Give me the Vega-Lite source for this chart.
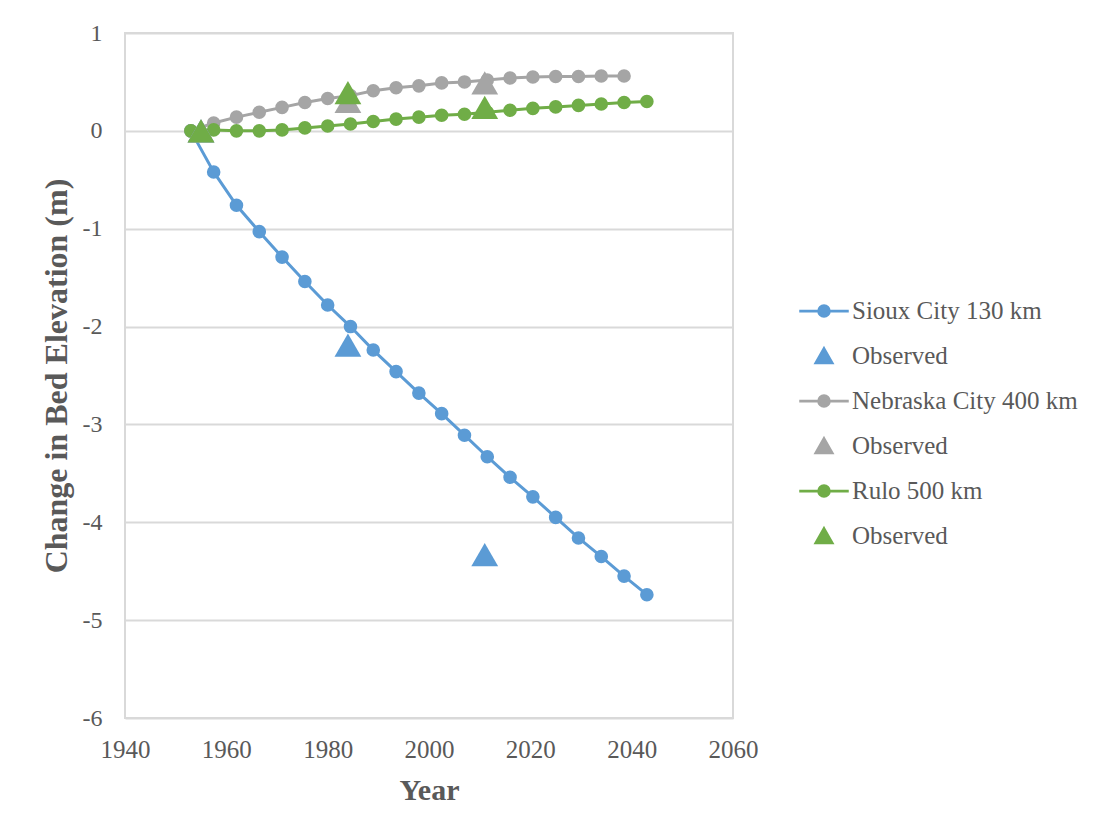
{
  "$schema": "https://vega.github.io/schema/vega-lite/v6.json",
  "width": 608,
  "height": 685,
  "autosize": "none",
  "padding": {"left": 125, "top": 33, "right": 363, "bottom": 122},
  "background": "white",
  "config": {
    "font": "Liberation Serif",
    "view": {"stroke": "#d9d9d9", "strokeWidth": 2}
  },
  "datasets": {
    "model": [
      {"series": "Sioux City 130 km", "year": 1953, "value": 0},
      {"series": "Sioux City 130 km", "year": 1957.5, "value": -0.42},
      {"series": "Sioux City 130 km", "year": 1962, "value": -0.76},
      {"series": "Sioux City 130 km", "year": 1966.5, "value": -1.03},
      {"series": "Sioux City 130 km", "year": 1971, "value": -1.29},
      {"series": "Sioux City 130 km", "year": 1975.5, "value": -1.54},
      {"series": "Sioux City 130 km", "year": 1980, "value": -1.78},
      {"series": "Sioux City 130 km", "year": 1984.5, "value": -2.0},
      {"series": "Sioux City 130 km", "year": 1989, "value": -2.24},
      {"series": "Sioux City 130 km", "year": 1993.5, "value": -2.46},
      {"series": "Sioux City 130 km", "year": 1998, "value": -2.68},
      {"series": "Sioux City 130 km", "year": 2002.5, "value": -2.89},
      {"series": "Sioux City 130 km", "year": 2007, "value": -3.11},
      {"series": "Sioux City 130 km", "year": 2011.5, "value": -3.33},
      {"series": "Sioux City 130 km", "year": 2016, "value": -3.54},
      {"series": "Sioux City 130 km", "year": 2020.5, "value": -3.74},
      {"series": "Sioux City 130 km", "year": 2025, "value": -3.95},
      {"series": "Sioux City 130 km", "year": 2029.5, "value": -4.16},
      {"series": "Sioux City 130 km", "year": 2034, "value": -4.35},
      {"series": "Sioux City 130 km", "year": 2038.5, "value": -4.55},
      {"series": "Sioux City 130 km", "year": 2043, "value": -4.74},
      {"series": "Nebraska City 400 km", "year": 1953, "value": 0},
      {"series": "Nebraska City 400 km", "year": 1957.5, "value": 0.08},
      {"series": "Nebraska City 400 km", "year": 1962, "value": 0.14},
      {"series": "Nebraska City 400 km", "year": 1966.5, "value": 0.19},
      {"series": "Nebraska City 400 km", "year": 1971, "value": 0.24},
      {"series": "Nebraska City 400 km", "year": 1975.5, "value": 0.29},
      {"series": "Nebraska City 400 km", "year": 1980, "value": 0.33},
      {"series": "Nebraska City 400 km", "year": 1984.5, "value": 0.36},
      {"series": "Nebraska City 400 km", "year": 1989, "value": 0.41},
      {"series": "Nebraska City 400 km", "year": 1993.5, "value": 0.44},
      {"series": "Nebraska City 400 km", "year": 1998, "value": 0.46},
      {"series": "Nebraska City 400 km", "year": 2002.5, "value": 0.49},
      {"series": "Nebraska City 400 km", "year": 2007, "value": 0.5},
      {"series": "Nebraska City 400 km", "year": 2011.5, "value": 0.52},
      {"series": "Nebraska City 400 km", "year": 2016, "value": 0.54},
      {"series": "Nebraska City 400 km", "year": 2020.5, "value": 0.55},
      {"series": "Nebraska City 400 km", "year": 2025, "value": 0.555},
      {"series": "Nebraska City 400 km", "year": 2029.5, "value": 0.555},
      {"series": "Nebraska City 400 km", "year": 2034, "value": 0.56},
      {"series": "Nebraska City 400 km", "year": 2038.5, "value": 0.56},
      {"series": "Rulo 500 km", "year": 1953, "value": 0},
      {"series": "Rulo 500 km", "year": 1957.5, "value": 0.01},
      {"series": "Rulo 500 km", "year": 1962, "value": 0.0},
      {"series": "Rulo 500 km", "year": 1966.5, "value": 0.0},
      {"series": "Rulo 500 km", "year": 1971, "value": 0.01},
      {"series": "Rulo 500 km", "year": 1975.5, "value": 0.03},
      {"series": "Rulo 500 km", "year": 1980, "value": 0.05},
      {"series": "Rulo 500 km", "year": 1984.5, "value": 0.07},
      {"series": "Rulo 500 km", "year": 1989, "value": 0.095},
      {"series": "Rulo 500 km", "year": 1993.5, "value": 0.12},
      {"series": "Rulo 500 km", "year": 1998, "value": 0.14},
      {"series": "Rulo 500 km", "year": 2002.5, "value": 0.16},
      {"series": "Rulo 500 km", "year": 2007, "value": 0.17},
      {"series": "Rulo 500 km", "year": 2011.5, "value": 0.19},
      {"series": "Rulo 500 km", "year": 2016, "value": 0.21},
      {"series": "Rulo 500 km", "year": 2020.5, "value": 0.23},
      {"series": "Rulo 500 km", "year": 2025, "value": 0.245},
      {"series": "Rulo 500 km", "year": 2029.5, "value": 0.26},
      {"series": "Rulo 500 km", "year": 2034, "value": 0.275},
      {"series": "Rulo 500 km", "year": 2038.5, "value": 0.29},
      {"series": "Rulo 500 km", "year": 2043, "value": 0.3}
    ],
    "observed": [
      {"series": "Observed (Sioux City)", "year": 1955, "value": 0},
      {"series": "Observed (Sioux City)", "year": 1984, "value": -2.19},
      {"series": "Observed (Sioux City)", "year": 2011, "value": -4.33},
      {"series": "Observed (Nebraska City)", "year": 1955, "value": 0},
      {"series": "Observed (Nebraska City)", "year": 1984, "value": 0.3},
      {"series": "Observed (Nebraska City)", "year": 2011, "value": 0.49},
      {"series": "Observed (Rulo)", "year": 1955, "value": 0},
      {"series": "Observed (Rulo)", "year": 1984, "value": 0.39},
      {"series": "Observed (Rulo)", "year": 2011, "value": 0.24}
    ],
    "keys": [
      {"series": "Sioux City 130 km", "year": 1000, "value": 0},
      {"series": "Observed (Sioux City)", "year": 1000, "value": 0},
      {"series": "Nebraska City 400 km", "year": 1000, "value": 0},
      {"series": "Observed (Nebraska City)", "year": 1000, "value": 0},
      {"series": "Rulo 500 km", "year": 1000, "value": 0},
      {"series": "Observed (Rulo)", "year": 1000, "value": 0}
    ]
  },
  "layer": [
    {
      "data": {"name": "model"},
      "mark": {"type": "line", "strokeWidth": 3},
      "encoding": {
        "x": {
          "field": "year", "type": "quantitative",
          "scale": {"domain": [1940, 2060], "nice": false, "zero": false},
          "axis": {
            "title": "Year", "values": [1940, 1960, 1980, 2000, 2020, 2040, 2060],
            "labelExpr": "toString(datum.value)", "grid": false, "domain": false, "ticks": false,
            "labelFlush": false, "labelOverlap": false,
            "labelFontSize": 25, "labelColor": "#595959", "labelPadding": 19,
            "titleFontSize": 30, "titleFontWeight": "bold", "titleColor": "#595959",
            "titlePadding": 13
          }
        },
        "y": {
          "field": "value", "type": "quantitative",
          "scale": {"domain": [-6, 1], "nice": false, "zero": false},
          "axis": {
            "title": "Change in Bed Elevation (m)", "values": [-6, -5, -4, -3, -2, -1, 0, 1],
            "labelExpr": "toString(datum.value)", "grid": true, "gridColor": "#d9d9d9", "gridWidth": 2,
            "domain": false, "ticks": false, "labelFlush": false, "labelOverlap": false,
            "labelFontSize": 24, "labelColor": "#595959", "labelPadding": 23,
            "titleFontSize": 32, "titleFontWeight": "bold", "titleColor": "#595959",
            "titlePadding": 9
          }
        },
        "color": {
          "field": "series", "type": "nominal",
          "scale": {
            "domain": ["Sioux City 130 km", "Nebraska City 400 km", "Rulo 500 km", "Observed (Sioux City)", "Observed (Nebraska City)", "Observed (Rulo)"],
            "range": ["#5b9bd5", "#a5a5a5", "#70ad47", "#5b9bd5", "#a5a5a5", "#70ad47"]
          },
          "legend": null
        }
      }
    },
    {
      "data": {"name": "model"},
      "mark": {"type": "point", "shape": "circle", "filled": true, "size": 185, "opacity": 1},
      "encoding": {
        "x": {"field": "year", "type": "quantitative"},
        "y": {"field": "value", "type": "quantitative"},
        "color": {"field": "series", "type": "nominal", "legend": null}
      }
    },
    {
      "data": {"name": "observed"},
      "mark": {"type": "point", "shape": "triangle-up", "filled": true, "size": 720, "opacity": 1},
      "encoding": {
        "x": {"field": "year", "type": "quantitative"},
        "y": {"field": "value", "type": "quantitative"},
        "color": {"field": "series", "type": "nominal", "legend": null}
      }
    },
    {
      "data": {"name": "keys"},
      "mark": {"type": "point", "filled": true, "clip": true, "opacity": 1},
      "encoding": {
        "x": {"field": "year", "type": "quantitative"},
        "y": {"field": "value", "type": "quantitative"},
        "fill": {
          "field": "series", "type": "nominal",
          "scale": {
            "domain": ["Sioux City 130 km", "Observed (Sioux City)", "Nebraska City 400 km", "Observed (Nebraska City)", "Rulo 500 km", "Observed (Rulo)"],
            "range": ["#5b9bd5", "#5b9bd5", "#a5a5a5", "#a5a5a5", "#70ad47", "#70ad47"]
          },
          "legend": {
            "title": null, "orient": "none", "legendX": 675, "legendY": 254,
            "padding": 0, "rowPadding": 8, "symbolSize": 2025, "symbolStrokeWidth": 2.75,
            "labelFontSize": 25, "labelColor": "#595959", "labelOffset": 4,
            "labelLimit": 400,
            "labelExpr": "indexof(datum.label, 'Observed') === 0 ? 'Observed' : datum.label"
          }
        },
        "stroke": {
          "field": "series", "type": "nominal",
          "scale": {
            "domain": ["Sioux City 130 km", "Observed (Sioux City)", "Nebraska City 400 km", "Observed (Nebraska City)", "Rulo 500 km", "Observed (Rulo)"],
            "range": ["#5b9bd5", "#5b9bd5", "#a5a5a5", "#a5a5a5", "#70ad47", "#70ad47"]
          },
          "legend": {
            "title": null, "orient": "none", "legendX": 675, "legendY": 254,
            "padding": 0, "rowPadding": 8, "symbolSize": 2025, "symbolStrokeWidth": 2.75,
            "labelFontSize": 25, "labelColor": "#595959", "labelOffset": 4,
            "labelLimit": 400,
            "labelExpr": "indexof(datum.label, 'Observed') === 0 ? 'Observed' : datum.label"
          }
        },
        "shape": {
          "field": "series", "type": "nominal",
          "scale": {
            "domain": ["Sioux City 130 km", "Observed (Sioux City)", "Nebraska City 400 km", "Observed (Nebraska City)", "Rulo 500 km", "Observed (Rulo)"],
            "range": [
              "M-1.1,0L1.1,0M0.24,0A0.24,0.24,0,1,1,-0.24,0A0.24,0.24,0,1,1,0.24,0Z",
              "M0,-0.33L0.36,0.3L-0.36,0.3Z",
              "M-1.1,0L1.1,0M0.24,0A0.24,0.24,0,1,1,-0.24,0A0.24,0.24,0,1,1,0.24,0Z",
              "M0,-0.33L0.36,0.3L-0.36,0.3Z",
              "M-1.1,0L1.1,0M0.24,0A0.24,0.24,0,1,1,-0.24,0A0.24,0.24,0,1,1,0.24,0Z",
              "M0,-0.33L0.36,0.3L-0.36,0.3Z"
            ]
          },
          "legend": {
            "title": null, "orient": "none", "legendX": 675, "legendY": 254,
            "padding": 0, "rowPadding": 8, "symbolSize": 2025, "symbolStrokeWidth": 2.75,
            "labelFontSize": 25, "labelColor": "#595959", "labelOffset": 4,
            "labelLimit": 400,
            "labelExpr": "indexof(datum.label, 'Observed') === 0 ? 'Observed' : datum.label"
          }
        }
      }
    }
  ]
}
